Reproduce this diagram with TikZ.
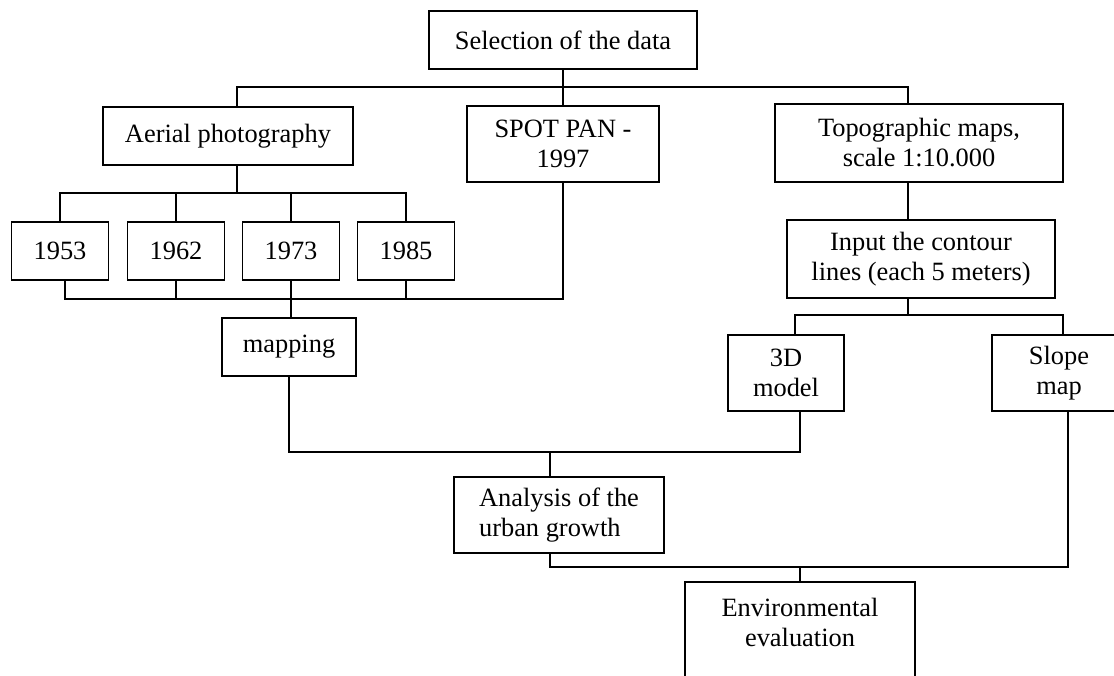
\documentclass[tikz,border=0pt]{standalone}
\usepackage{fontspec}
\setmainfont{Liberation Serif}
\usepackage{tikz}

\begin{document}
\begin{tikzpicture}[x=0.75pt,y=0.75pt,yscale=-1,xscale=1,line width=1.2pt,
  box/.style={draw, align=center, inner sep=0pt,
    font=\fontsize{19.8}{22.5}\selectfont},
  yearbox/.style={box, minimum width=72.75pt, minimum height=43.5pt}]
%set diagram left start at 0, and has height of 675
\useasboundingbox (0,0) rectangle (1114,675);
\clip (0,0) rectangle (1114,675);

%Shape: Rectangle
\node[box, minimum width=201pt, minimum height=43.5pt] (sel) at (563,40) {Selection of the data};
%Shape: Rectangle
\node[box, minimum width=187.5pt, minimum height=43.5pt] (aer) at (228,136) {Aerial photography};
%Shape: Rectangle
\node[box, minimum width=144pt, minimum height=57pt] (spot) at (563,144) {SPOT PAN -\\1997};
%Shape: Rectangle
\node[box, minimum width=216pt, minimum height=58.5pt] (topo) at (919,143) {Topographic maps,\\scale 1:10.000};
%Shape: Rectangle
\node[box, minimum width=201pt, minimum height=58.5pt] (inp) at (921,259) {Input the contour\\lines (each 5 meters)};
%Shape: Rectangle
\node[yearbox] (y53) at (60,251) {1953};
\node[yearbox] (y62) at (176,251) {1962};
\node[yearbox] (y73) at (291,251) {1973};
\node[yearbox] (y85) at (406,251) {1985};
%Shape: Rectangle
\node[box, minimum width=100.5pt, minimum height=43.5pt] (map) at (289,347) {mapping};
%Shape: Rectangle
\node[box, minimum width=87pt, minimum height=57pt] (m3d) at (786,373) {3D\\model};
%Shape: Rectangle
\node[box, minimum width=100.5pt, minimum height=57pt] (slope) at (1059,373) {Slope\\map};
%Shape: Rectangle
\node[box, align=left, minimum width=157.5pt, minimum height=57pt] (an) at (559,515) {Analysis of the\\urban growth};
%Shape: Rectangle
\node[box, anchor=north, minimum width=172.5pt, minimum height=90pt] (env) at (800,581) {};
% Text Node
\node[box, draw=none] (envtext) at (800,622) {Environmental\\evaluation};

% junctions of the lines
\coordinate (topL) at (237,87);
\coordinate (topR) at (908,87);
\coordinate (yrT) at (237,193);
\coordinate (yrB) at (65,299);
\coordinate (inL) at (795,315);
\coordinate (inR) at (1063,315);
\coordinate (anT) at (550,452);
\coordinate (m3dB) at (800,452);
\coordinate (anB) at (550,567);
\coordinate (slB) at (1068,567);
\coordinate (enT) at (800,567);

%Straight Lines
\draw (sel.south) -- (sel.south |- topL);
%Straight Lines
\draw (aer.north -| topL) -- (topL) -- (topR) -- (topo.north -| topR);
%Straight Lines
\draw (spot.north) -- (spot.north |- topL);
%Straight Lines
\draw (aer.south -| yrT) -- (yrT);
%Straight Lines
\draw (y53.north) |- (y85.north |- yrT) -- (y85.north);
\draw (y62.north) -- (y62.north |- yrT);
\draw (y73.north) -- (y73.north |- yrT);
%Straight Lines
\draw (y53.south -| yrB) -- (yrB) -- (yrB -| spot.south) -- (spot.south);
\draw (y62.south) -- (y62.south |- yrB);
\draw (y85.south) -- (y85.south |- yrB);
%Straight Lines
\draw (y73.south) -- (y73.south |- map.north);
%Straight Lines
\draw (map.south) |- (m3dB) -- (m3dB |- m3d.south);
\draw (anT) -- (anT |- an.north);
%Straight Lines
\draw (topo.south -| topR) -- (inp.north -| topR);
\draw (inp.south -| topR) -- (topR |- inL);
%Straight Lines
\draw (m3d.north -| inL) -- (inL) -- (inR) -- (slope.north -| inR);
%Straight Lines
\draw (an.south -| anB) -- (anB) -- (slB) -- (slope.south -| slB);
\draw (enT) -- (env.north -| enT);

\end{tikzpicture}
\end{document}
